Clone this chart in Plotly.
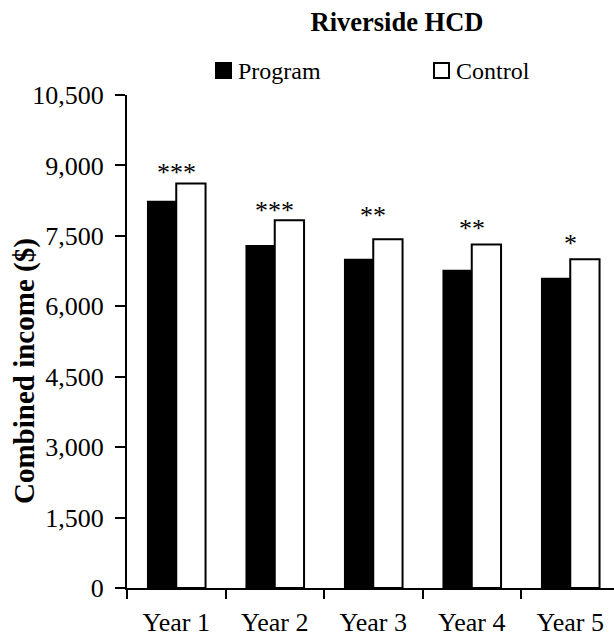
import plotly.graph_objects as go

# ---- data ----
years = ["Year 1", "Year 2", "Year 3", "Year 4", "Year 5"]
program = [8250, 7305, 7010, 6780, 6610]
control = [8615, 7835, 7430, 7315, 7000]
significance = ["***", "***", "**", "**", "*"]
y_ticks = [0, 1500, 3000, 4500, 6000, 7500, 9000, 10500]

# ---- layout constants (pixels) ----
W, H = 614, 639
ML, MR, MT, MB = 127, 0, 95, 51
PLOT_W = W - ML - MR
PLOT_H = H - MT - MB
CAT_PX = 98.5  # width of one year group on the x axis
FONT = "Liberation Serif, Times New Roman, serif"

# vertical lift of each significance marker above its control bar
star_lift = [11, 10, 24, 16, 16]


def px_x(px):
    return (px - ML) / PLOT_W


def px_y(py):
    return (H - MB - py) / PLOT_H


xpos = list(range(len(years)))

fig = go.Figure()
fig.add_trace(go.Bar(
    name="Program", x=xpos, y=program,
    marker=dict(color="black", line=dict(color="black", width=0)),
    showlegend=False,
))
fig.add_trace(go.Bar(
    name="Control", x=xpos, y=control,
    marker=dict(color="white", line=dict(color="black", width=2)),
    showlegend=False,
))

# significance markers above each pair
for i, s in enumerate(significance):
    fig.add_annotation(
        x=xpos[i], y=control[i], xref="x", yref="y",
        text=s, showarrow=False, yanchor="middle", yshift=star_lift[i],
        font=dict(family=FONT, size=26, color="black"),
    )

# legend: filled and open squares with labels
legend_items = [("Program", "black", 215), ("Control", "white", 433)]
for label, fill, left in legend_items:
    fig.add_shape(
        type="rect", xref="paper", yref="paper",
        x0=px_x(left + 1), x1=px_x(left + 16),
        y0=px_y(78), y1=px_y(63),
        fillcolor=fill, line=dict(color="black", width=2),
    )
    fig.add_annotation(
        x=px_x(left + 21), y=px_y(70.5), xref="paper", yref="paper",
        text=label, showarrow=False, xanchor="left", yanchor="middle",
        font=dict(family=FONT, size=24, color="black"),
    )

# y-axis title
fig.add_annotation(
    x=px_x(24), y=px_y(371), xref="paper", yref="paper",
    text="<b>Combined income ($)</b>", showarrow=False, textangle=-90,
    xanchor="center", yanchor="middle",
    font=dict(family=FONT, size=29, color="black"),
)

fig.update_layout(
    width=W, height=H,
    margin=dict(l=ML, r=MR, t=MT, b=MB, pad=0),
    paper_bgcolor="white", plot_bgcolor="white",
    barmode="group", bargap=0.405, bargroupgap=0,
    title=dict(
        text="<b>Riverside HCD</b>", x=397 / W, xanchor="center",
        y=1 - 22 / H, yanchor="middle",
        font=dict(family=FONT, size=26.5, color="black"),
    ),
    font=dict(family=FONT, size=26, color="black"),
    xaxis=dict(
        range=[-0.5, -0.5 + PLOT_W / CAT_PX],
        tickvals=xpos, ticktext=years, ticks="",
        ticklabelstandoff=10,
        showline=True, linecolor="black", linewidth=2,
        showgrid=False, zeroline=False,
        minor=dict(tick0=0.5, dtick=1, ticks="outside", ticklen=9,
                   tickwidth=2, tickcolor="black", showgrid=False),
        tickfont=dict(family=FONT, size=26, color="black"),
    ),
    yaxis=dict(
        range=[0, 10500], tickvals=y_ticks, tickformat=",",
        ticks="outside", ticklen=10, tickwidth=2, tickcolor="black",
        ticklabelstandoff=6,
        showline=True, linecolor="black", linewidth=2,
        showgrid=False, zeroline=False,
        tickfont=dict(family=FONT, size=26, color="black"),
    ),
)

fig.write_html("out.html")
